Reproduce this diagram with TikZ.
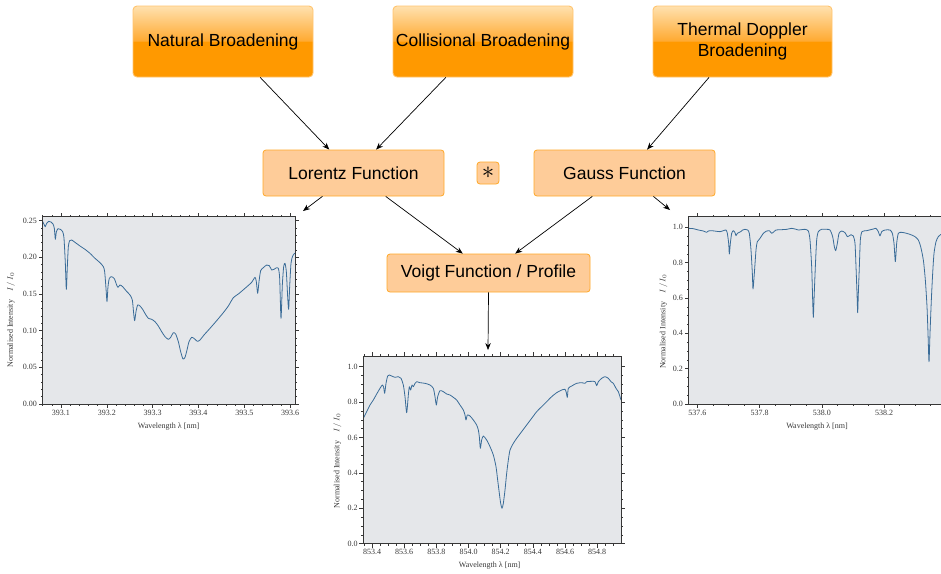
\documentclass[tikz,border=0pt]{standalone}
\usepackage{fontspec}
\setmainfont{Liberation Sans}
\newfontfamily\plotfont{Liberation Serif}
\usetikzlibrary{arrows.meta, positioning}

\definecolor{boxorange}{RGB}{255,153,0}
\definecolor{boxlight}{RGB}{255,225,175}
\definecolor{boxmid}{RGB}{255,170,50}
\definecolor{boxedge}{RGB}{255,196,110}
\definecolor{funcfill}{RGB}{254,204,153}
\definecolor{funcedge}{RGB}{255,168,40}
\definecolor{plotbg}{RGB}{229,231,234}
\definecolor{specline}{RGB}{58,108,152}
\definecolor{axisgray}{RGB}{55,55,55}

% glossy fill: gradient in the upper half, solid orange below
\pgfdeclareverticalshading{broadshade}{100bp}{color(0bp)=(boxorange); color(50bp)=(boxorange);
  color(50.5bp)=(boxmid); color(75bp)=(boxlight); color(100bp)=(boxlight)}

\tikzset{
  broadbox/.style={draw=boxedge, line width=0.9pt, rounded corners=4pt, shading=broadshade,
    minimum width=180pt, minimum height=71pt, inner sep=0pt, align=center,
    font=\fontsize{17.5}{21}\selectfont},
  funcbox/.style={draw=funcedge, fill=funcfill, line width=0.8pt, rounded corners=3pt,
    inner sep=0pt, font=\fontsize{17.5}{21}\selectfont},
  convbox/.style={funcbox, minimum width=22pt, minimum height=22pt,
    font=\fontsize{27}{27}\selectfont},
  flow/.style={-{Stealth[length=7pt,width=5.5pt]}, line width=0.7pt},
  axtick/.style={line width=0.5pt, draw=axisgray},
  plotframe/.style={line width=0.6pt, draw=axisgray},
  spectrum/.style={line width=0.8pt, draw=specline, line join=round},
  ticklabel/.style={text=axisgray, inner sep=1.5pt},
  plottext/.style={font=\plotfont\fontsize{8}{9}\selectfont, text=axisgray}
}

\begin{document}
\begin{tikzpicture}[x=1pt, y=-1pt]

\useasboundingbox (0,0) rectangle (941,573);

% three broadening mechanisms on top
\node[broadbox] (natural) at (223,41.5) {\raisebox{-2pt}{Natural Broadening}};
\node[broadbox] (collision) at (483,41.5) {\raisebox{-2pt}{Collisional Broadening}};
\node[broadbox, minimum width=179pt] (doppler) at (742.5,41.5) {Thermal Doppler\\Broadening};

% line profile functions
\node[funcbox, minimum width=181pt, minimum height=46pt] (lorentz) at (353.5,173) {Lorentz Function};
\node[convbox] (conv) at (488,173) {$\ast$};
\node[funcbox, minimum width=181pt, minimum height=46pt] (gauss) at (624.5,173) {Gauss Function};
\node[funcbox, minimum width=203pt, minimum height=38pt] (voigt) at (488.5,273) {Voigt Function / Profile};

% free ends of the arrows towards the spectra
\coordinate (lorentzplot) at (303,211);
\coordinate (gaussplot) at (670,210);
\coordinate (voigtplot) at (488,350);

\draw[flow] (natural.-44) -- (lorentz.136);
\draw[flow] (collision.224) -- (lorentz.46);
\draw[flow] (doppler.227) -- (gauss.46);
\draw[flow] (lorentz.217) -- (lorentzplot);
\draw[flow] (lorentz.-36) -- (voigt.143);
\draw[flow] (gauss.216) -- (voigt.36);
\draw[flow] (gauss.-39) -- (gaussplot);
\draw[flow] (voigt.south) -- (voigtplot);

% Ca II K spectrum (left), units are a third of a pixel
\begin{scope}[xshift=0pt, yshift=-200pt, x=0.33333pt, y=-0.33333pt, plottext]
  \fill[plotbg] (128,50) rectangle (886,613);
  \foreach \k in {0,...,25} {
    \draw[axtick] (128,612-22*\k) -- ++(-6,0);
    \draw[axtick] (886,612-22*\k) -- ++(6,0);
  }
  \foreach \k in {0,...,27} {
    \draw[axtick] (128+27.5*\k,613) -- ++(0,6);
    \draw[axtick] (128+27.5*\k,50) -- ++(0,-6);
  }
  \foreach \y/\v [count=\i] in {612/0.00,502/0.05,392/0.10,282/0.15,172/0.20,62/0.25} {
    \draw[axtick] (128,\y) -- ++(-12,0) node[left, ticklabel] (caky\i) {\v};
    \draw[axtick] (886,\y) -- ++(12,0);
  }
  \foreach \x/\v [count=\i] in {183/393.1,320.5/393.2,458/393.3,595.5/393.4,733/393.5,870.5/393.6} {
    \draw[axtick] (\x,613) -- ++(0,12) node[below, ticklabel] (cakx\i) {\v};
    \draw[axtick] (\x,50) -- ++(0,-12);
  }
  \draw[spectrum] plot[smooth, tension=0.4] coordinates {
    (128,65) (133,75) (136,80) (140,70) (146,64) (153,66) (159,72) (163,85)
    (166,118) (169,96) (174,86) (181,88) (188,95) (192,115) (196,190) (199,268)
    (202,200) (205,140) (209,122) (215,120) (225,127) (240,138) (255,148)
    (270,160) (285,175) (300,188) (310,200) (314,215) (318,265) (321,305)
    (324,260) (328,235) (335,230) (343,236) (350,255) (354,262) (360,255)
    (368,260) (378,272) (390,285) (397,300) (401,340) (404,362) (408,335)
    (413,315) (420,318) (428,328) (436,342) (445,355) (455,358) (465,365)
    (475,378) (485,395) (495,410) (505,418) (512,412) (520,398) (527,402)
    (535,425) (542,455) (549,477) (555,472) (561,450) (567,425) (575,412)
    (583,416) (592,424) (600,420) (612,405) (630,385) (650,362) (670,338)
    (685,318) (700,293) (715,282) (735,265) (755,247) (765,232) (769,245)
    (773,280) (777,245) (782,212) (790,203) (800,195) (808,197) (815,210)
    (822,208) (828,204) (835,205) (839,235) (843,355) (847,255) (851,200)
    (855,190) (859,215) (863,290) (866,328) (869,260) (873,190) (878,168)
    (884,160) (886,160)};
  \draw[plotframe] (128,50) rectangle (886,613);
  \node (cakxlabel) at (506,680) {Wavelength λ [nm]};
  \node[rotate=90] (cakylabel) at (33,360) {Normalised Intensity\quad $I\,/\,I_0$};
\end{scope}

% Ca II 854.2 spectrum (middle)
\begin{scope}[xshift=330pt, yshift=-340pt, x=0.33333pt, y=-0.33333pt, plottext]
  \fill[plotbg] (100,48) rectangle (873,611);
  \foreach \k in {0,...,20} {
    \draw[axtick] (100,611-26.55*\k) -- ++(-6,0);
    \draw[axtick] (873,611-26.55*\k) -- ++(6,0);
  }
  \foreach \k in {0,...,31} {
    \draw[axtick] (101.875+24.125*\k,611) -- ++(0,6);
    \draw[axtick] (101.875+24.125*\k,48) -- ++(0,-6);
  }
  \foreach \y/\v [count=\i] in {611/0.0,504.8/0.2,398.6/0.4,292.4/0.6,186.2/0.8,80/1.0} {
    \draw[axtick] (100,\y) -- ++(-12,0) node[left, ticklabel] (iry\i) {\v};
    \draw[axtick] (873,\y) -- ++(12,0);
  }
  \foreach \x/\v [count=\i] in {126/853.4,222.5/853.6,319/853.8,415.5/854.0,512/854.2,608.5/854.4,705/854.6,801.5/854.8} {
    \draw[axtick] (\x,611) -- ++(0,12) node[below, ticklabel] (irx\i) {\v};
    \draw[axtick] (\x,48) -- ++(0,-12);
  }
  \draw[spectrum] plot[smooth, tension=0.4] coordinates {
    (100,235) (110,215) (120,195) (130,180) (140,162) (150,145) (157,135)
    (161,142) (164,160) (168,130) (173,108) (178,105) (185,108) (195,112)
    (205,110) (213,115) (220,135) (225,170) (230,218) (235,165) (238,140)
    (242,150) (246,135) (250,140) (255,130) (260,125) (270,128) (285,130)
    (300,135) (310,145) (315,170) (319,195) (323,170) (330,152) (340,155)
    (350,162) (360,165) (370,172) (380,180) (390,195) (400,210) (405,225)
    (408,240) (412,225) (420,228) (430,240) (440,255) (445,270) (448,290)
    (451,325) (455,300) (460,288) (470,300) (480,320) (490,345) (498,380)
    (503,420) (508,460) (512,490) (516,505) (520,490) (525,450) (530,400)
    (535,360) (540,330) (550,310) (560,295) (575,275) (590,255) (605,235)
    (620,215) (635,200) (650,185) (665,170) (680,158) (695,150) (705,148)
    (709,158) (712,172) (715,145) (725,138) (740,130) (755,128) (765,130)
    (770,125) (785,124) (795,125) (800,137) (805,125) (815,115) (825,110)
    (835,115) (843,125) (850,130) (858,145) (865,155) (873,180)};
  \draw[plotframe] (100,48) rectangle (873,611);
  \node (irxlabel) at (479,678) {Wavelength λ [nm]};
  \node[rotate=90] (irylabel) at (22,363) {Normalised Intensity\quad $I\,/\,I_0$};
\end{scope}

% photospheric spectrum (right), cut by the page edge
\begin{scope}[xshift=650pt, yshift=-200pt, x=0.33333pt, y=-0.33333pt, plottext]
  \begin{scope}
    \clip (0,0) rectangle (873,700);
    \fill[plotbg] (116,50) rectangle (920,613);
    \foreach \k in {0,...,20} {
      \draw[axtick] (116,612-26.5*\k) -- ++(-6,0);
    }
    \foreach \k in {0,...,16} {
      \draw[axtick] (142+46.68*\k,613) -- ++(0,6);
      \draw[axtick] (142+46.68*\k,50) -- ++(0,-6);
    }
    \foreach \y/\v [count=\i] in {612/0.0,506/0.2,400/0.4,294/0.6,188/0.8,82/1.0} {
      \draw[axtick] (116,\y) -- ++(-12,0) node[left, ticklabel] (phy\i) {\v};
    }
    \foreach \x/\v [count=\i] in {142/537.6,328.7/537.8,515.4/538.0,702.1/538.2} {
      \draw[axtick] (\x,613) -- ++(0,12) node[below, ticklabel] (phx\i) {\v};
      \draw[axtick] (\x,50) -- ++(0,-12);
    }
    \draw[spectrum] plot[smooth, tension=0.4] coordinates {
      (116,85) (130,86) (145,90) (160,93) (170,97) (175,93) (185,92) (200,94)
      (210,95) (220,92) (228,90) (232,100) (236,130) (238,162) (241,130)
      (245,100) (250,92) (255,98) (258,107) (262,100) (268,97) (272,95)
      (278,90) (285,88) (293,90) (298,100) (303,150) (307,220) (309,267)
      (313,220) (318,150) (322,125) (330,115) (340,100) (350,93) (358,92)
      (365,100) (370,97) (378,90) (395,89) (410,88) (425,85) (435,87)
      (445,90) (465,88) (475,93) (480,120) (485,200) (488,300) (490,352)
      (492,300) (496,200) (500,120) (505,95) (515,88) (530,88) (540,90)
      (548,110) (553,140) (557,152) (562,130) (567,100) (575,93) (585,98)
      (592,110) (597,108) (603,104) (610,108) (615,130) (618,200) (621,280)
      (623,338) (625,280) (628,200) (631,120) (636,95) (650,92) (670,87)
      (678,85) (685,95) (690,108) (695,95) (705,90) (720,90) (727,100)
      (732,130) (736,185) (740,130) (745,100) (755,97) (770,100) (785,105)
      (795,110) (805,120) (812,140) (820,180) (826,240) (831,320) (834,400)
      (837,485) (840,400) (844,300) (848,220) (852,160) (858,125) (865,110)
      (873,103)};
    \draw[plotframe] (116,50) rectangle (920,613);
  \end{scope}
  \node (phxlabel) at (501,680) {Wavelength λ [nm]};
  \node[rotate=90] (phylabel) at (40,365) {Normalised Intensity\quad $I\,/\,I_0$};
\end{scope}

\end{tikzpicture}
\end{document}
